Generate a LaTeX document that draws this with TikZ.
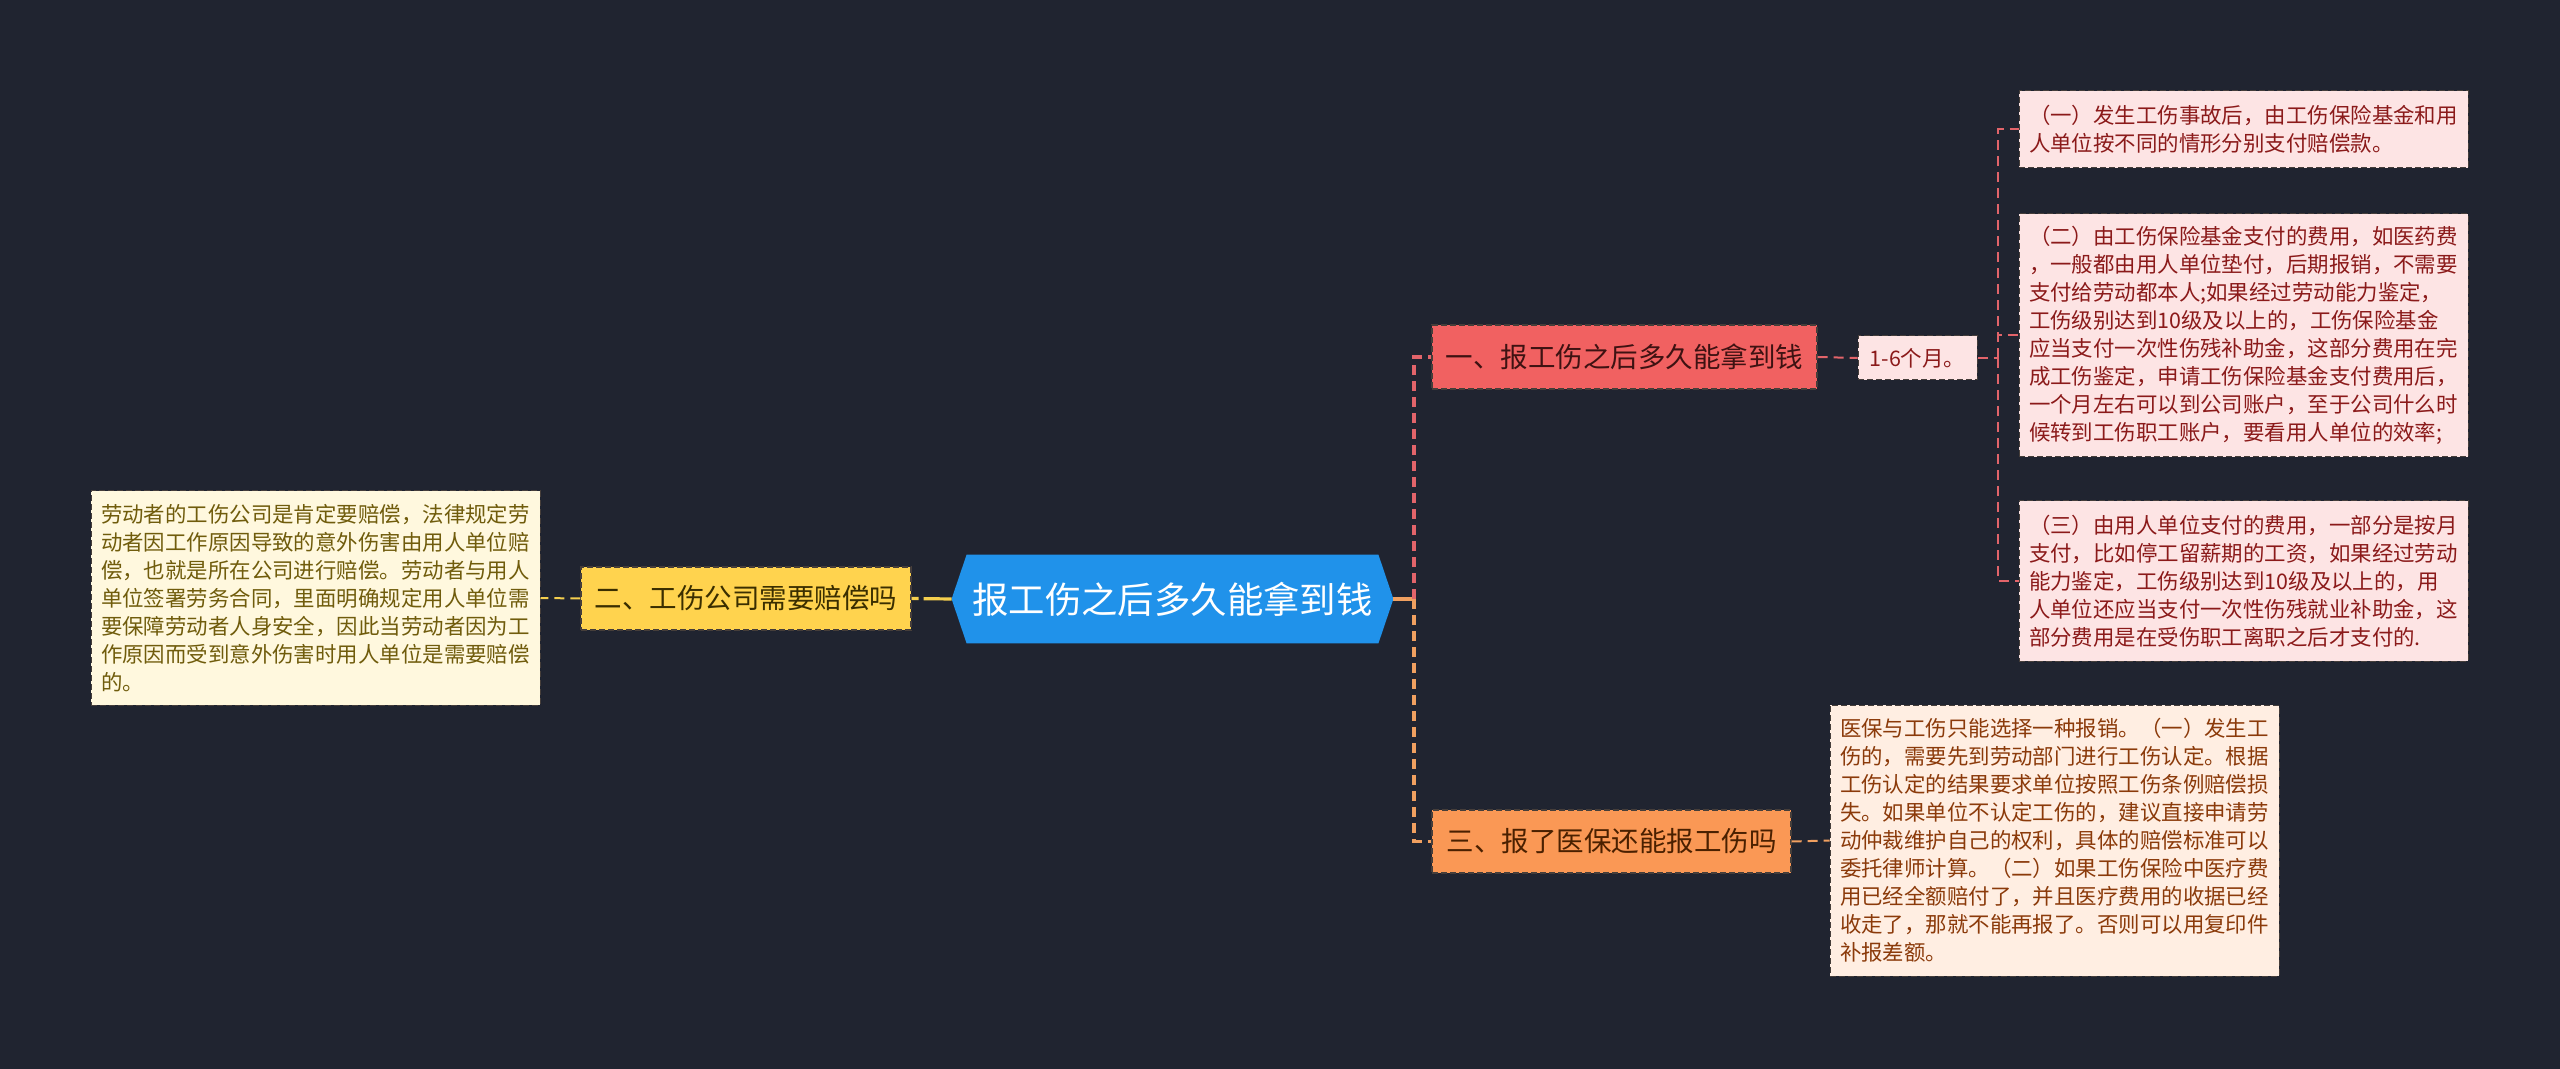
\documentclass[tikz,border=0pt]{standalone}
\usepackage{fontspec}
\setmainfont{Noto Sans CJK SC}
\usetikzlibrary{backgrounds}
\definecolor{bgc}{RGB}{32,36,48}
\definecolor{cblue}{RGB}{32,146,234}
\definecolor{ylwfill}{RGB}{255,211,78}
\definecolor{ylwtext}{RGB}{58,46,0}
\definecolor{ylwleaf}{RGB}{255,248,222}
\definecolor{ylwleaftext}{RGB}{112,92,12}
\definecolor{ylwline}{RGB}{245,207,78}
\definecolor{redfill}{RGB}{241,97,97}
\definecolor{redtext}{RGB}{62,18,18}
\definecolor{pinkfill}{RGB}{253,228,228}
\definecolor{pinktext}{RGB}{139,26,26}
\definecolor{redline}{RGB}{226,100,106}
\definecolor{orfill}{RGB}{250,152,85}
\definecolor{ortext}{RGB}{74,32,0}
\definecolor{orleaf}{RGB}{255,238,226}
\definecolor{orleaftext}{RGB}{139,58,10}
\definecolor{orline}{RGB}{240,160,96}
\definecolor{bordc}{RGB}{70,62,58}
\tikzset{
  rootbox/.style={rectangle, inner sep=0pt, minimum width=220.5pt, minimum height=44pt,
    text=white, font=\fontsize{18.2pt}{22pt}\selectfont},
  branchbox/.style={rectangle, inner sep=0pt, draw=bordc, line width=0.6pt,
    dash pattern=on 3pt off 1.5pt, font=\fontsize{13.75pt}{16pt}\selectfont},
  leafbox/.style={rectangle, draw=bordc, line width=0.5pt, dash pattern=on 3pt off 1.5pt,
    inner xsep=5pt, inner ysep=0pt, align=left, text width=214.5pt,
    font=\fontsize{10.72pt}{14pt}\selectfont},
  mainlink/.style={line width=1.6pt, dash pattern=on 5pt off 3pt},
  leaflink/.style={line width=1pt, dash pattern=on 5pt off 3pt}
}
\begin{document}
\begin{tikzpicture}[x=0.5pt,y=-0.5pt]
\useasboundingbox (0,0) rectangle (2560,1069);

% root
\node[rootbox] (c) at (1172.5,599) {报工伤之后多久能拿到钱};

% left branch
\node[branchbox, fill=ylwfill, text=ylwtext, minimum width=165pt, minimum height=31.5pt] (b2) at (746,598.5) {二、工伤公司需要赔偿吗};
\node[leafbox, fill=ylwleaf, text=ylwleaftext, minimum height=107pt] (l2) at (315.5,598) {劳动者的工伤公司是肯定要赔偿，法律规定劳\\动者因工作原因导致的意外伤害由用人单位赔\\偿，也就是所在公司进行赔偿。劳动者与用人\\单位签署劳务合同，里面明确规定用人单位需\\要保障劳动者人身安全，因此当劳动者因为工\\作原因而受到意外伤害时用人单位是需要赔偿\\的。};

% right branch 1
\node[branchbox, fill=redfill, text=redtext, minimum width=192.5pt, minimum height=32pt] (b1) at (1624.5,357) {一、报工伤之后多久能拿到钱};
\node[branchbox, line width=0.5pt, fill=pinkfill, text=pinktext, minimum width=59.5pt, minimum height=22pt, font=\fontsize{10.75pt}{13pt}\selectfont] (m) at (1917.5,358) {1-6个月。};
\node[leafbox, fill=pinkfill, text=pinktext, minimum height=38.5pt] (r1) at (2243.5,129.5) {（一）发生工伤事故后，由工伤保险基金和用\\人单位按不同的情形分别支付赔偿款。};
\node[leafbox, fill=pinkfill, text=pinktext, minimum height=121.5pt] (r2) at (2243.5,335.5) {（二）由工伤保险基金支付的费用，如医药费\\，一般都由用人单位垫付，后期报销，不需要\\支付给劳动都本人;如果经过劳动能力鉴定，\\工伤级别达到10级及以上的，工伤保险基金\\应当支付一次性伤残补助金，这部分费用在完\\成工伤鉴定，申请工伤保险基金支付费用后，\\一个月左右可以到公司账户，至于公司什么时\\候转到工伤职工账户，要看用人单位的效率;};
\node[leafbox, fill=pinkfill, text=pinktext, minimum height=80pt] (r3) at (2243.5,581) {（三）由用人单位支付的费用，一部分是按月\\支付，比如停工留薪期的工资，如果经过劳动\\能力鉴定，工伤级别达到10级及以上的，用\\人单位还应当支付一次性伤残就业补助金，这\\部分费用是在受伤职工离职之后才支付的.};

% right branch 3
\node[branchbox, fill=orfill, text=ortext, minimum width=179.5pt, minimum height=31.5pt] (b3) at (1611.5,841.5) {三、报了医保还能报工伤吗};
\node[leafbox, fill=orleaf, text=orleaftext, minimum height=135.5pt] (o) at (2054.5,840.5) {医保与工伤只能选择一种报销。（一）发生工\\伤的，需要先到劳动部门进行工伤认定。根据\\工伤认定的结果要求单位按照工伤条例赔偿损\\失。如果单位不认定工伤的，建议直接申请劳\\动仲裁维护自己的权利，具体的赔偿标准可以\\委托律师计算。（二）如果工伤保险中医疗费\\用已经全额赔付了，并且医疗费用的收据已经\\收走了，那就不能再报了。否则可以用复印件\\补报差额。};

% background and root hexagon
\begin{pgfonlayer}{background}
\fill[bgc] (0,0) rectangle (2560,1069);
\fill[cblue] (c.west) -- ([xshift=7.5pt]c.north west) -- ([xshift=-7.5pt]c.north east)
  -- (c.east) -- ([xshift=-7.5pt]c.south east) -- ([xshift=7.5pt]c.south west) -- cycle;
\end{pgfonlayer}

% connectors
\draw[ylwline, line width=1.6pt, dash pattern=on 14pt off 2.5pt] (c.west) -- (b2.east);
\draw[ylwline, leaflink] (b2.west) -- (l2.east);
\coordinate (j) at (1414,599);
\draw[orline, line width=1.6pt] (c.east) -- (j);
\draw[redline, mainlink] (j) |- (b1.west);
\draw[orline, mainlink] (j) |- (b3.west);
\draw[redline, leaflink] (b1.east) -- (m.west);
\coordinate (k) at (1998,358);
\draw[redline, leaflink] (m.east) -- (k);
\draw[redline, leaflink] (k) |- (r1.west);
\draw[redline, leaflink] (k) |- (r2.west);
\draw[redline, leaflink] (k) |- (r3.west);
\draw[orline, leaflink] (b3.east) -- (o.west);
\end{tikzpicture}
\end{document}
